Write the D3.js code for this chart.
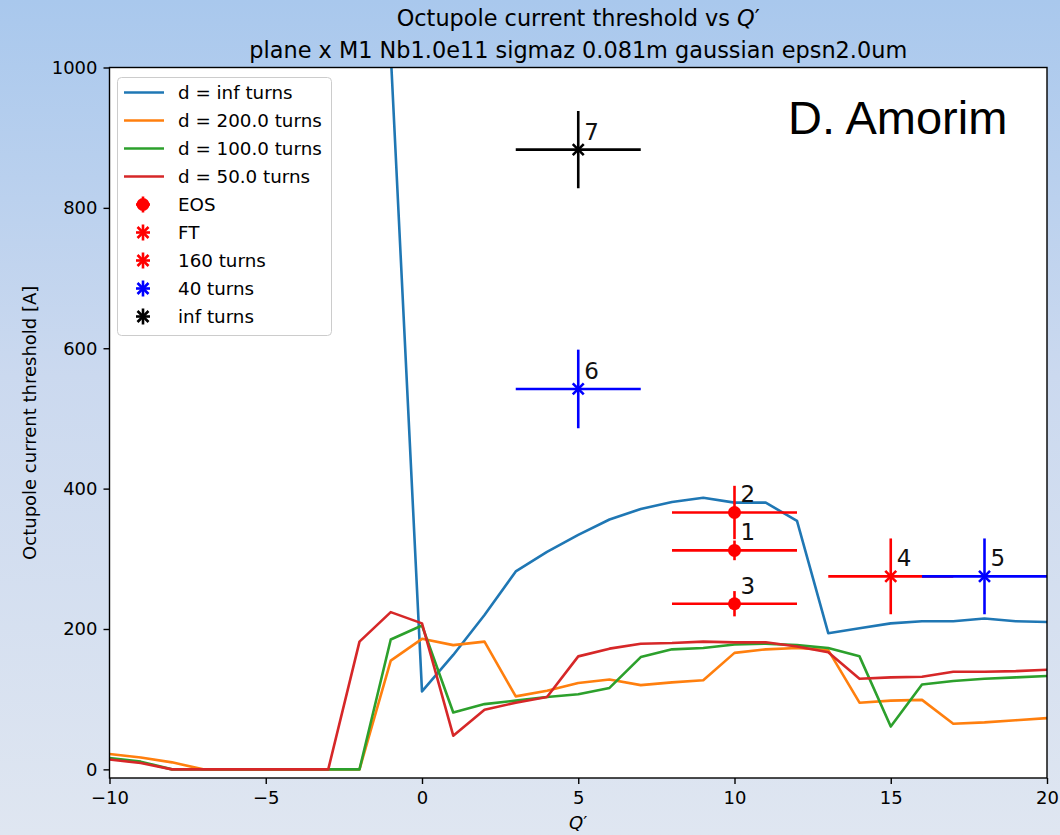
<!DOCTYPE html>
<html>
<head>
<meta charset="utf-8">
<script src="https://cdn.jsdelivr.net/npm/d3@7"></script>
<style>
    html, body { margin: 0; padding: 0; }
    #space { width: 1060px; height: 835px; }
</style>
</head>
<body>
<div id="space"></div>
<script>

// Q' values and thresholds [A]
var q_full = d3.range(-10, 21);
var q_inf = d3.range(-1, 21);

var thr_inf = [1020, 111, 163, 220, 282, 310, 334, 356, 371, 381, 387, 380, 380, 354, 194, 201, 208, 211, 211, 215, 211, 210];
var thr_200 = [22, 17, 10, 0, 0, 0, 0, 0, 0, 155, 186, 177, 182, 104, 112, 123, 128, 120, 124, 127, 166, 171, 173, 170, 95, 98, 99, 65, 67, 70, 73];
var thr_100 = [16, 11, 0, 0, 0, 0, 0, 0, 0, 185, 205, 81, 93, 98, 103, 107, 116, 160, 171, 173, 178, 179, 177, 173, 161, 61, 121, 126, 129, 131, 133];
var thr_50 = [14, 9, 0, 0, 0, 0, 0, 0, 182, 224, 208, 48, 85, 95, 103, 161, 172, 179, 180, 182, 181, 181, 175, 167, 129, 131, 132, 139, 139, 140, 142];

var line_labels = ["d = inf turns", "d = 200.0 turns", "d = 100.0 turns", "d = 50.0 turns"];
var line_colors = ["#1f77b4", "#ff7f0e", "#2ca02c", "#d62728"];

// measured points: [Q', threshold, xerr, yerr, label]
var eos_pts = [[10, 312, 2, 14, "1"], [10, 366, 2, 38, "2"], [10, 236, 2, 18, "3"]];
var ft_pts = [[15, 275, 2, 54, "4"]];
var t160_pts = [];
var t40_pts = [[18, 275, 2, 54, "5"], [5, 542, 2, 56, "6"]];
var tinf_pts = [[5, 883, 2, 55, "7"]];

var meas_labels = ["EOS", "FT", "160 turns", "40 turns", "inf turns"];
var meas_colors = ["#ff0000", "#ff0000", "#ff0000", "#0000ff", "#000000"];
var meas_markers = ["o", "x", "x", "x", "x"];

var x_ticks = [-10, -5, 0, 5, 10, 15, 20];
var y_ticks = [0, 200, 400, 600, 800, 1000];

var svg, plot, xs, ys;
var margin = { left: 109.5, right: 1047, top: 67.5, bottom: 778 };
var FONT = "DejaVu Sans, sans-serif";

init();

function init()
{
    initSvg();
    initScales();
    drawAxes();
    drawLines();
    drawMeasurements();
    drawLegend();
    drawTexts();
}

function initSvg() {
    svg = d3.select("#space").append("svg")
                             .attr("xmlns", "http://www.w3.org/2000/svg")
                             .attr("width", 1060)
                             .attr("height", 835);

    var defs = svg.append("defs");
    var grad = defs.append("linearGradient")
                   .attr("id", "bg")
                   .attr("x1", 0).attr("y1", 0)
                   .attr("x2", 0).attr("y2", 1);
    grad.append("stop").attr("offset", "0%").attr("stop-color", "#a9c8ed");
    grad.append("stop").attr("offset", "45%").attr("stop-color", "#cbd9ef");
    grad.append("stop").attr("offset", "100%").attr("stop-color", "#dfe6f1");

    defs.append("clipPath").attr("id", "clip")
        .append("rect")
        .attr("x", margin.left).attr("y", margin.top)
        .attr("width", margin.right - margin.left)
        .attr("height", margin.bottom - margin.top);

    svg.append("rect")
       .attr("width", 1060).attr("height", 835)
       .attr("fill", "url(#bg)");

    svg.append("rect")
       .attr("x", margin.left).attr("y", margin.top)
       .attr("width", margin.right - margin.left)
       .attr("height", margin.bottom - margin.top)
       .attr("fill", "white");

    plot = svg.append("g").attr("clip-path", "url(#clip)");
}

function initScales() {
    xs = d3.scaleLinear().domain([-10, 20]).range([margin.left, margin.right]);
    ys = d3.scaleLinear().domain([-12.3, 1000]).range([margin.bottom, margin.top]);
}

function drawAxes() {
    var xAxis = d3.axisBottom(xs).tickValues(x_ticks).tickSize(6).tickPadding(7)
                  .tickFormat(function (d) { return d < 0 ? "\u2212" + Math.abs(d) : d; });
    var yAxis = d3.axisLeft(ys).tickValues(y_ticks).tickSize(6).tickPadding(6)
                  .tickFormat(d3.format("d"));

    var gx = svg.append("g").attr("transform", "translate(0," + margin.bottom + ")").call(xAxis);
    var gy = svg.append("g").attr("transform", "translate(" + margin.left + ",0)").call(yAxis);

    [gx, gy].forEach(function (g) {
        g.select(".domain").remove();
        g.selectAll(".tick line").attr("stroke", "black").attr("stroke-width", 1.4);
        g.selectAll(".tick text").attr("font-family", FONT).attr("font-size", 18).attr("fill", "black");
    });

    //Spines
    svg.append("rect")
       .attr("x", margin.left).attr("y", margin.top)
       .attr("width", margin.right - margin.left)
       .attr("height", margin.bottom - margin.top)
       .attr("fill", "none")
       .attr("stroke", "black")
       .attr("stroke-width", 1.4);
}

function drawLines() {
    var series = [[q_inf, thr_inf], [q_full, thr_200], [q_full, thr_100], [q_full, thr_50]];
    var line = d3.line().x(function (d) { return xs(d[0]); }).y(function (d) { return ys(d[1]); });

    for (var i = 0; i < series.length; i++) {
        var pts = d3.zip(series[i][0], series[i][1]);
        plot.append("path")
            .datum(pts)
            .attr("d", line)
            .attr("fill", "none")
            .attr("stroke", line_colors[i])
            .attr("stroke-width", 2.6)
            .attr("stroke-linejoin", "round");
    }
}

function drawMarker(g, kind, cx, cy, color) {
    if (kind == "o") {
        g.append("circle").attr("cx", cx).attr("cy", cy).attr("r", 6.5).attr("fill", color);
    } else {
        var s = 5.5;
        g.append("path")
         .attr("d", "M" + (cx - s) + "," + (cy - s) + "L" + (cx + s) + "," + (cy + s) +
                    "M" + (cx - s) + "," + (cy + s) + "L" + (cx + s) + "," + (cy - s))
         .attr("stroke", color).attr("stroke-width", 2.6).attr("fill", "none");
    }
}

function drawMeasurements() {
    var groups = [eos_pts, ft_pts, t160_pts, t40_pts, tinf_pts];

    for (var i = 0; i < groups.length; i++) {
        var pts = groups[i];
        for (var j = 0; j < pts.length; j++) {
            var p = pts[j];
            var cx = xs(p[0]), cy = ys(p[1]);
            plot.append("line")
                .attr("x1", xs(p[0] - p[2])).attr("x2", xs(p[0] + p[2]))
                .attr("y1", cy).attr("y2", cy)
                .attr("stroke", meas_colors[i]).attr("stroke-width", 2.6);
            plot.append("line")
                .attr("x1", cx).attr("x2", cx)
                .attr("y1", ys(p[1] - p[3])).attr("y2", ys(p[1] + p[3]))
                .attr("stroke", meas_colors[i]).attr("stroke-width", 2.6);
            drawMarker(plot, meas_markers[i], cx, cy, meas_colors[i]);
        }
    }

    //Point numbers
    for (var i = 0; i < groups.length; i++) {
        groups[i].forEach(function (p) {
            svg.append("text")
               .attr("x", xs(p[0]) + 6)
               .attr("y", ys(p[1]) - 10)
               .attr("font-family", FONT)
               .attr("font-size", 23)
               .attr("fill", "#111")
               .text(p[4]);
        });
    }
}

function drawLegend() {
    var lg = svg.append("g");
    lg.append("rect")
      .attr("x", 117.5).attr("y", 77.5)
      .attr("width", 214).attr("height", 258)
      .attr("rx", 4)
      .attr("fill", "white").attr("fill-opacity", 0.8)
      .attr("stroke", "#cccccc").attr("stroke-width", 1);

    var row0 = 92.5, step = 28;
    for (var i = 0; i < line_labels.length; i++) {
        var y = row0 + i * step;
        lg.append("line")
          .attr("x1", 124).attr("x2", 164)
          .attr("y1", y).attr("y2", y)
          .attr("stroke", line_colors[i]).attr("stroke-width", 2.6);
        lg.append("text")
          .attr("x", 178).attr("y", y + 6.5)
          .attr("font-family", FONT).attr("font-size", 18.3)
          .text(line_labels[i]);
    }
    for (var k = 0; k < meas_labels.length; k++) {
        var y = row0 + (k + line_labels.length) * step;
        var c = meas_colors[k];
        lg.append("line").attr("x1", 136).attr("x2", 150).attr("y1", y).attr("y2", y)
          .attr("stroke", c).attr("stroke-width", 2.6);
        lg.append("line").attr("x1", 143).attr("x2", 143).attr("y1", y - 8).attr("y2", y + 8)
          .attr("stroke", c).attr("stroke-width", 2.6);
        drawMarker(lg, meas_markers[k], 143, y, c);
        lg.append("text")
          .attr("x", 178).attr("y", y + 6.5)
          .attr("font-family", FONT).attr("font-size", 18.3)
          .text(meas_labels[k]);
    }
}

function drawTexts() {
    var cx = (margin.left + margin.right) / 2;

    var t1 = svg.append("text")
                .attr("x", cx).attr("y", 26)
                .attr("text-anchor", "middle")
                .attr("font-family", FONT).attr("font-size", 22.4);
    t1.append("tspan").text("Octupole current threshold vs ");
    t1.append("tspan").attr("font-style", "italic").text("Q");
    t1.append("tspan").text("\u2032");

    svg.append("text")
       .attr("x", cx).attr("y", 58)
       .attr("text-anchor", "middle")
       .attr("font-family", FONT).attr("font-size", 22.4)
       .text("plane x M1 Nb1.0e11 sigmaz 0.081m gaussian epsn2.0um");

    var xl = svg.append("text")
                .attr("x", cx).attr("y", 829)
                .attr("text-anchor", "middle")
                .attr("font-family", FONT).attr("font-size", 18);
    xl.append("tspan").attr("font-style", "italic").text("Q");
    xl.append("tspan").text("\u2032");

    svg.append("text")
       .attr("transform", "translate(36," + ((margin.top + margin.bottom) / 2) + ") rotate(-90)")
       .attr("text-anchor", "middle")
       .attr("font-family", FONT).attr("font-size", 18)
       .text("Octupole current threshold [A]");

    svg.append("text")
       .attr("x", 788).attr("y", 134)
       .attr("font-family", "Liberation Sans, Arial, sans-serif")
       .attr("font-size", 47)
       .text("D. Amorim");
}

</script>
</body>
</html>
